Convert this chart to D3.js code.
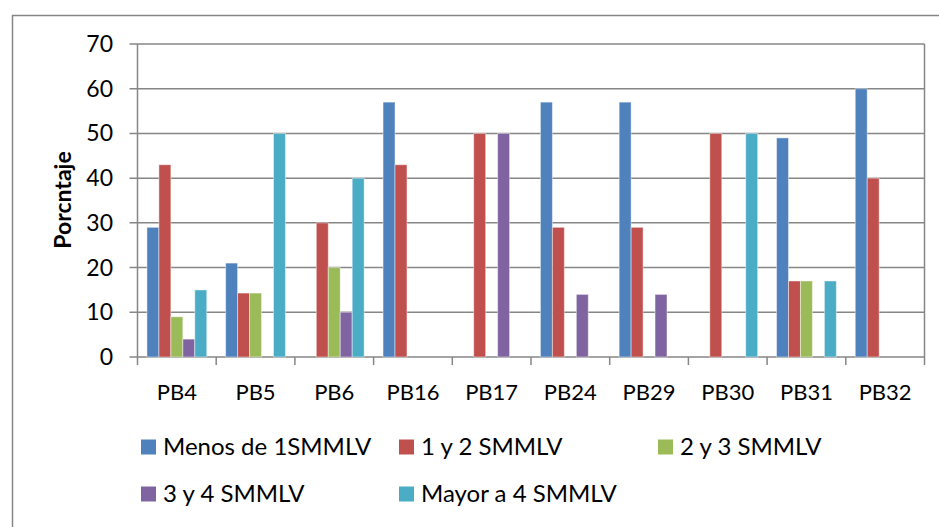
<!DOCTYPE html>
<html>
<head>
<meta charset="utf-8">
<script src="https://cdn.jsdelivr.net/npm/d3@7"></script>
<style>
  body { margin: 0; background: #fff; }
  svg text { font-family: Lato, "Open Sans", sans-serif; fill: #000; }
</style>
</head>
<body>
<div id="chart"></div>
<script>
// categories and series
let categories = ["PB4", "PB5", "PB6", "PB16", "PB17", "PB24", "PB29", "PB30", "PB31", "PB32"];
let seriesNames = ["Menos de 1SMMLV", "1 y 2 SMMLV", "2 y 3 SMMLV", "3 y 4 SMMLV", "Mayor a 4 SMMLV"];
let menos1 = [29, 21, 0, 57, 0, 57, 57, 0, 49, 60];
let entre1y2 = [43, 14.3, 30, 43, 50, 29, 29, 50, 17, 40];
let entre2y3 = [9, 14.3, 20, 0, 0, 0, 0, 0, 17, 0];
let entre3y4 = [4, 0, 10, 0, 50, 14, 14, 0, 0, 0];
let mayor4 = [15, 50, 40, 0, 0, 0, 0, 50, 17, 0];
let yTicks = [0, 10, 20, 30, 40, 50, 60, 70];
let colors = ["#4F81BD", "#C0504D", "#9BBB59", "#8064A2", "#4BACC6"];

let seriesValues = [menos1, entre1y2, entre2y3, entre3y4, mayor4];

let width = 939, height = 527;
let plot = {left: 137.5, top: 44, right: 924.5, bottom: 357};
let gridColor = "#868686";

let svg = d3.select("#chart").append("svg")
    .attr("width", width)
    .attr("height", height);

// outer chart frame (only its left and top edges are visible)
svg.append("rect")
    .attr("x", 12.5).attr("y", 15.5)
    .attr("width", 960).attr("height", 560)
    .attr("fill", "none")
    .attr("stroke", gridColor)
    .attr("stroke-width", 1.5);

let x0 = d3.scaleBand()
    .domain(categories)
    .range([plot.left, plot.right])
    .padding(0);

let x1 = d3.scaleBand()
    .domain(seriesNames)
    .range([x0.bandwidth() * 0.12, x0.bandwidth() * 0.88])
    .padding(0);

let y = d3.scaleLinear()
    .domain([0, 70])
    .range([plot.bottom, plot.top]);

// grid lines
svg.append("g")
    .selectAll("line")
    .data(yTicks)
    .enter()
    .append("line")
    .attr("x1", plot.left - 8)
    .attr("x2", plot.right)
    .attr("y1", d => y(d))
    .attr("y2", d => y(d))
    .attr("stroke", gridColor)
    .attr("stroke-width", 1.5);

// plot area left/right borders
svg.append("line")
    .attr("x1", plot.left).attr("x2", plot.left)
    .attr("y1", plot.top).attr("y2", plot.bottom + 8)
    .attr("stroke", gridColor).attr("stroke-width", 1.5);
svg.append("line")
    .attr("x1", plot.right).attr("x2", plot.right)
    .attr("y1", plot.top).attr("y2", plot.bottom + 8)
    .attr("stroke", gridColor).attr("stroke-width", 1.5);

// category tick marks
svg.append("g")
    .selectAll("line")
    .data(categories.slice(1))
    .enter()
    .append("line")
    .attr("x1", d => x0(d))
    .attr("x2", d => x0(d))
    .attr("y1", plot.bottom)
    .attr("y2", plot.bottom + 8)
    .attr("stroke", gridColor)
    .attr("stroke-width", 1.5);

// bars
let groups = svg.append("g")
    .selectAll("g")
    .data(categories)
    .enter()
    .append("g")
    .attr("transform", d => "translate(" + x0(d) + ",0)");

groups.selectAll("rect")
    .data((c, i) => seriesNames.map((s, j) => ({series: s, idx: j, value: seriesValues[j][i]})))
    .enter()
    .filter(d => d.value > 0)
    .append("rect")
    .attr("x", d => x1(d.series))
    .attr("y", d => y(d.value))
    .attr("width", x1.bandwidth())
    .attr("height", d => y(0) - y(d.value))
    .attr("fill", d => colors[d.idx])
    .attr("stroke", "rgba(255,255,255,0.45)")
    .attr("stroke-width", 1);

// y tick labels
svg.append("g")
    .selectAll("text")
    .data(yTicks)
    .enter()
    .append("text")
    .attr("x", 113)
    .attr("y", d => y(d))
    .attr("dy", "0.35em")
    .attr("text-anchor", "end")
    .style("font-size", "23px")
    .text(d => d);

// x tick labels
svg.append("g")
    .selectAll("text")
    .data(categories)
    .enter()
    .append("text")
    .attr("x", d => x0(d) + x0.bandwidth() / 2)
    .attr("y", 392)
    .attr("dy", "0.35em")
    .attr("text-anchor", "middle")
    .style("font-size", "22px")
    .text(d => d);

// y axis title
svg.append("text")
    .attr("transform", "translate(63,200) rotate(-90)")
    .attr("text-anchor", "middle")
    .attr("dy", "0.35em")
    .style("font-size", "23px")
    .style("font-weight", "bold")
    .text("Porcntaje");

// legend
let legendPos = [[141, 447], [399, 447], [658, 447], [141, 494], [399, 494]];
let legend = svg.append("g")
    .selectAll("g")
    .data(seriesNames)
    .enter()
    .append("g")
    .attr("transform", (d, i) => "translate(" + legendPos[i][0] + "," + legendPos[i][1] + ")");

legend.append("rect")
    .attr("x", 0)
    .attr("y", -7.5)
    .attr("width", 15)
    .attr("height", 15)
    .attr("fill", (d, i) => colors[i]);

legend.append("text")
    .attr("x", 22)
    .attr("y", 0)
    .attr("dy", "0.35em")
    .style("font-size", "24px")
    .text(d => d);
</script>
</body>
</html>
